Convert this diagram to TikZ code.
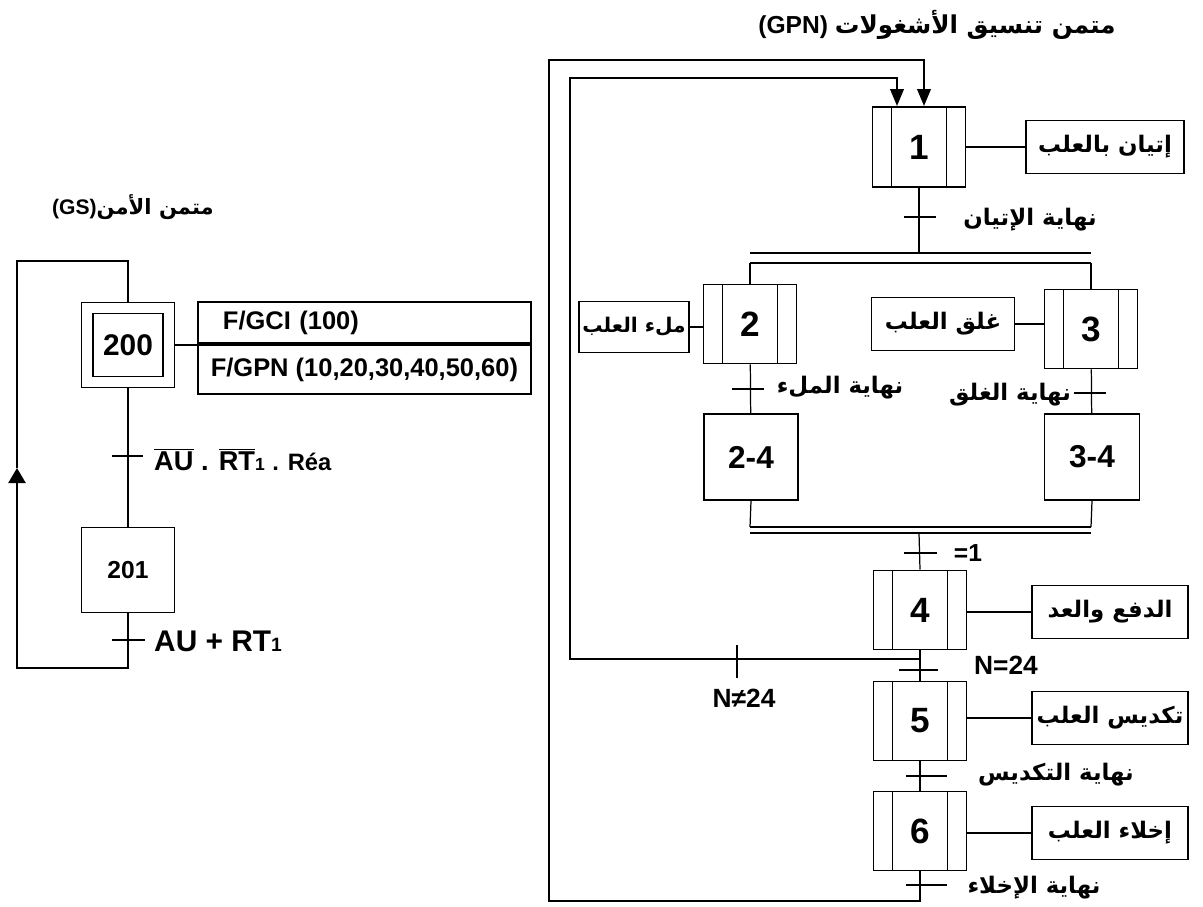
\documentclass[tikz,border=0pt]{standalone}
\usepackage{fontspec}
\setmainfont{Liberation Sans}
\newfontfamily\arabicfont[Script=Arabic]{DejaVu Sans}
\TeXXeTstate=1
\usetikzlibrary{arrows.meta}
\newcommand{\fsz}[1]{\fontsize{#1}{#1}\selectfont}
\newcommand{\artxt}[1]{{\arabicfont\bfseries\beginR #1\endR}}

\begin{document}
\begin{tikzpicture}[x=0.02cm,y=-0.02cm,>={Triangle[length=0.34cm,width=0.27cm]},
    etape/.style={draw,line width=1.1pt,minimum width=1.86cm,minimum height=1.58cm,inner sep=0pt,font=\bfseries\fsz{20}},
    macro/.style={etape,path picture={
        \draw[line width=0.7pt] ([xshift=0.38cm]path picture bounding box.north west) -- ([xshift=0.38cm]path picture bounding box.south west);
        \draw[line width=0.7pt] ([xshift=-0.38cm]path picture bounding box.north east) -- ([xshift=-0.38cm]path picture bounding box.south east);}},
    action/.style={draw,line width=1.1pt,minimum height=1.06cm,inner sep=0pt,font=\fsz{13}},
    lien/.style={line width=0.7pt},
    boucle/.style={line width=1.3pt},
    recept/.style={line width=1.2pt},
    divg/.style={line width=1.4pt},
    lbl/.style={font=\bfseries\fsz{13}}]
  \useasboundingbox (0,0) rectangle (1203,906);

  % --- GS ---
  \node[font=\bfseries\fsz{12}] (titreGS) at (133,207) {(GS){\arabicfont\beginR متمن الأمن\endR}};
  \node[etape,minimum width=1.86cm,minimum height=1.7cm] (G200) at (128,345) {};
  \node[etape,minimum width=1.4cm,minimum height=1.26cm,font=\bfseries\fsz{17}] (S200) at (G200) {200};
  \node[action,anchor=south west,minimum width=6.66cm,minimum height=0.82cm,text width=5.66cm,inner xsep=0.5cm,align=left,font=\bfseries\fsz{14.5}] (A200a) at (197,344) {F/GCI (100)};
  \node[action,anchor=north west,minimum width=6.66cm,minimum height=0.98cm,font=\bfseries\fsz{14.5}] (A200b) at (197,344) {F/GPN (10,20,30,40,50,60)};
  \draw[lien] (G200.east) -- (G200.east -| A200a.west);
  \node[etape,minimum width=1.86cm,minimum height=1.7cm,font=\bfseries\fsz{14}] (S201) at (128,570) {201};
  \draw[lien] (G200.south) -- (S201.north);
  \coordinate (T200) at (128,456);
  \coordinate (T201) at (128,640);
  \draw[recept] ([xshift=-0.32cm]T200) -- ([xshift=0.3cm]T200);
  \draw[recept] ([xshift=-0.32cm]T201) -- ([xshift=0.34cm]T201);
  \node[anchor=west,font=\bfseries\fsz{15.5}] (R200) at (148,460)
    {$\overline{\hbox{AU}}$ . $\overline{\hbox{RT}}${\fsz{10}1} {\fsz{13.5}. Réa}};
  \node[anchor=west,font=\bfseries\fsz{17}] (R201) at (148,641) {AU + RT{\fsz{11}1}};
  \coordinate (B200) at (17,668);
  \coordinate (M200) at (17,468);
  \coordinate (H200) at (17,261);
  \draw[boucle,-{Triangle[length=0.3cm,width=0.34cm]}] (S201.south) |- (B200) -- (M200);
  \draw[boucle] (M200) -- (H200) -| (G200.north);

  % --- GPN ---
  \node[font=\bfseries\fsz{14}] (titreGPN) at (937,25) {(GPN) {\arabicfont\beginR متمن تنسيق الأشغولات\endR}};
  \node[macro,minimum height=1.6cm] (S1) at (919,147) {1};
  \node[action,minimum width=3.16cm] (A1) at (1105,147) {\artxt{إتيان بالعلب}};
  \draw[lien] (S1) -- (A1);
  \coordinate (T1) at (919,217);
  \draw[recept] ([xshift=-0.3cm]T1) -- ([xshift=0.34cm]T1);
  \node[lbl] (R1) at (1030,220) {\artxt{نهاية الإتيان}};
  \coordinate (DivL) at (750,253);
  \coordinate (DivR) at (1091,253);
  \draw[lien] (S1.south) -- (S1.south |- DivL);
  \draw[divg] (DivL) -- (DivR);
  \draw[divg] ([yshift=-0.2cm]DivL) -- ([yshift=-0.2cm]DivR);

  \node[macro] (S2) at (750,324) {2};
  \node[action,minimum width=2.2cm,minimum height=1.02cm,font=\fsz{11.5}] (A2) at (634,327) {\artxt{ملء العلب}};
  \draw[lien] (A2.east) -- (A2.east -| S2.west);
  \node[macro] (S3) at (1091,329) {3};
  \node[action,minimum width=2.86cm] (A3) at (943,324) {\artxt{غلق العلب}};
  \draw[lien] (A3.east) -- (A3.east -| S3.west);
  \draw[lien] ([yshift=-0.2cm]DivL) -- (S2.north);
  \draw[lien] ([yshift=-0.2cm]DivR) -- (S3.north);

  \node[etape,minimum width=1.88cm,minimum height=1.72cm,font=\bfseries\fsz{18}] (S24) at (751,457) {2-4};
  \node[etape,minimum width=1.9cm,minimum height=1.72cm,font=\bfseries\fsz{18}] (S34) at (1092,457) {3-4};
  \draw[lien] (S2) -- (S24);
  \draw[lien] (S3) -- (S34);
  \coordinate (T2) at (750,389);
  \coordinate (T3) at (1091,393);
  \draw[recept] ([xshift=-0.36cm]T2) -- ([xshift=0.28cm]T2);
  \draw[recept] ([xshift=-0.34cm]T3) -- ([xshift=0.3cm]T3);
  \node[lbl] (R2) at (840,388) {\artxt{نهاية الملء}};
  \node[lbl] (R3) at (1010,395) {\artxt{نهاية الغلق}};

  \coordinate (CvL) at (750,527);
  \coordinate (CvR) at (1091,527);
  \draw[lien] (S24.south) -- (CvL);
  \draw[lien] (S34.south) -- (CvR);
  \draw[divg] (CvL) -- (CvR);
  \draw[divg] ([yshift=-0.12cm]CvL) -- ([yshift=-0.12cm]CvR);
  \coordinate (Cv) at (919,533);
  \coordinate (T24) at (919,553);
  \draw[recept] ([xshift=-0.3cm]T24) -- ([xshift=0.36cm]T24);
  \node[font=\bfseries\fsz{14}] (R24) at (968,553) {=1};

  \foreach \num/\y/\ya/\act in {4/610/612/{الدفع والعد},5/721/718/{تكديس العلب},6/831/833/{إخلاء العلب}} {
    \node[macro] (S\num) at (920,\y) {\num};
    \node[action,minimum width=3.12cm] (A\num) at (1110,\ya) {\artxt{\act}};
    \draw[lien] (A\num.west -| S\num.east) -- (A\num.west);
  }
  \draw[lien] (Cv) -- (S4.north);
  \draw[lien] (S4) -- (S5);
  \draw[lien] (S5) -- (S6);

  \coordinate (T4) at (920,670);
  \coordinate (T5) at (920,776);
  \coordinate (T6) at (920,885);
  \draw[recept] ([xshift=-0.42cm]T4) -- ([xshift=0.36cm]T4);
  \draw[recept] ([xshift=-0.28cm]T5) -- ([xshift=0.54cm]T5);
  \draw[recept] ([xshift=-0.28cm]T6) -- ([xshift=0.54cm]T6);
  \node[font=\bfseries\fsz{15}] (R4) at (1006,665) {N=24};
  \node[lbl] (R5) at (1056,775) {\artxt{نهاية التكديس}};
  \node[lbl] (R6) at (1034,888) {\artxt{نهاية الإخلاء}};

  % boucles
  \coordinate (Rb4) at (920,659);
  \coordinate (Lp4) at (570,659);
  \coordinate (H1a) at (897,78);
  \coordinate (B6) at (549,901);
  \coordinate (H1b) at (924,60);
  \draw[boucle,->] (Rb4) -- (Lp4) |- (H1a) -- (H1a |- S1.north);
  \draw[boucle,->] (S6.south) |- (B6) |- (H1b) -- (H1b |- S1.north);
  \coordinate (T4b) at (737,659);
  \draw[recept] ([yshift=0.28cm]T4b) -- ([yshift=-0.38cm]T4b);
  \node[font=\bfseries\fsz{15}] (R4b) at (744,698) {N≠24};
\end{tikzpicture}
\end{document}
